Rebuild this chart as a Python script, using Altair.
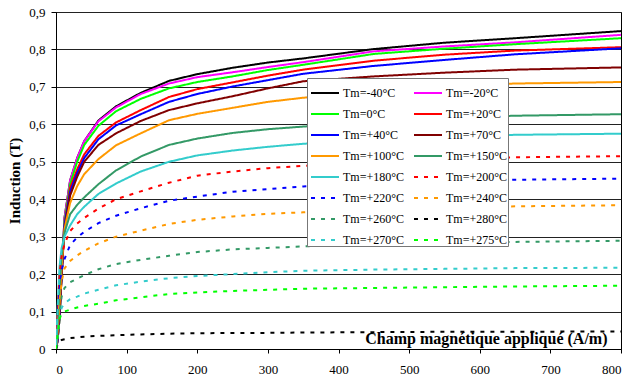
import altair as alt
import pandas as pd

# Applied field (A/m) at which each magnetisation curve is sampled
field_h = [0, 2, 5, 8, 12, 20, 30, 40, 60, 85, 120, 160, 200, 250, 300, 350, 450, 550, 650, 800]

# Induction (T) for each measuring temperature
b_m40 = [0, 0.02, 0.08, 0.20, 0.35, 0.45, 0.51, 0.555, 0.61, 0.648, 0.684, 0.716, 0.734, 0.751, 0.765, 0.776, 0.801, 0.818, 0.830, 0.849]
b_m20 = [0, 0.02, 0.08, 0.20, 0.35, 0.45, 0.51, 0.555, 0.608, 0.645, 0.681, 0.709, 0.726, 0.739, 0.753, 0.766, 0.795, 0.808, 0.819, 0.839]
b_0 = [0, 0.02, 0.08, 0.20, 0.34, 0.44, 0.50, 0.545, 0.596, 0.635, 0.668, 0.696, 0.713, 0.728, 0.745, 0.759, 0.788, 0.802, 0.814, 0.830]
b_p20 = [0, 0.02, 0.09, 0.20, 0.33, 0.43, 0.48, 0.52, 0.569, 0.605, 0.638, 0.673, 0.694, 0.712, 0.730, 0.746, 0.770, 0.786, 0.797, 0.806]
b_p40 = [0, 0.02, 0.09, 0.20, 0.33, 0.42, 0.47, 0.51, 0.560, 0.597, 0.627, 0.660, 0.681, 0.701, 0.718, 0.735, 0.756, 0.772, 0.787, 0.803]
b_p70 = [0, 0.03, 0.10, 0.20, 0.32, 0.41, 0.46, 0.50, 0.545, 0.576, 0.609, 0.638, 0.656, 0.675, 0.696, 0.715, 0.728, 0.738, 0.746, 0.752]
b_p100 = [0, 0.04, 0.12, 0.22, 0.32, 0.39, 0.435, 0.467, 0.507, 0.544, 0.576, 0.611, 0.628, 0.644, 0.660, 0.671, 0.690, 0.702, 0.709, 0.713]
b_p150 = [0, 0.06, 0.16, 0.25, 0.31, 0.36, 0.385, 0.405, 0.440, 0.477, 0.514, 0.545, 0.562, 0.577, 0.587, 0.594, 0.607, 0.617, 0.623, 0.627]
b_p180 = [0, 0.10, 0.22, 0.27, 0.30, 0.33, 0.36, 0.38, 0.414, 0.442, 0.474, 0.500, 0.517, 0.530, 0.540, 0.548, 0.559, 0.567, 0.572, 0.575]
b_p200 = [0, 0.08, 0.20, 0.25, 0.28, 0.315, 0.335, 0.350, 0.375, 0.400, 0.421, 0.444, 0.463, 0.474, 0.483, 0.489, 0.500, 0.508, 0.512, 0.515]
b_p220 = [0, 0.06, 0.16, 0.21, 0.24, 0.278, 0.298, 0.313, 0.336, 0.356, 0.376, 0.396, 0.407, 0.420, 0.427, 0.434, 0.442, 0.448, 0.452, 0.455]
b_p240 = [0, 0.05, 0.13, 0.18, 0.215, 0.235, 0.250, 0.262, 0.282, 0.300, 0.316, 0.334, 0.345, 0.354, 0.361, 0.365, 0.372, 0.377, 0.381, 0.384]
b_p260 = [0, 0.04, 0.10, 0.14, 0.163, 0.178, 0.188, 0.197, 0.213, 0.227, 0.238, 0.249, 0.259, 0.266, 0.270, 0.274, 0.279, 0.283, 0.286, 0.289]
b_p280 = [0, 0.01, 0.02, 0.024, 0.026, 0.029, 0.031, 0.033, 0.035, 0.037, 0.039, 0.041, 0.042, 0.043, 0.043, 0.044, 0.045, 0.046, 0.046, 0.047]
b_p270 = [0, 0.03, 0.08, 0.11, 0.122, 0.133, 0.140, 0.148, 0.158, 0.170, 0.180, 0.189, 0.195, 0.200, 0.205, 0.209, 0.212, 0.214, 0.216, 0.217]
b_p275 = [0, 0.03, 0.08, 0.095, 0.100, 0.105, 0.111, 0.115, 0.121, 0.130, 0.138, 0.147, 0.151, 0.155, 0.158, 0.161, 0.163, 0.165, 0.167, 0.169]

series_labels = [
    "Tm=-40°C", "Tm=-20°C", "Tm=0°C", "Tm=+20°C", "Tm=+40°C", "Tm=+70°C",
    "Tm=+100°C", "Tm=+150°C", "Tm=+180°C", "Tm=+200°C", "Tm=+220°C", "Tm=+240°C",
    "Tm=+260°C", "Tm=+280°C", "Tm=+270°C", "Tm=+275°C",
]
series_values = [
    b_m40, b_m20, b_0, b_p20, b_p40, b_p70, b_p100, b_p150, b_p180,
    b_p200, b_p220, b_p240, b_p260, b_p280, b_p270, b_p275,
]
series_colors = [
    "#000000", "#FF00FF", "#00FF00", "#FF0000", "#0000FF", "#800000",
    "#FF9900", "#339966", "#33CCCC", "#FF0000", "#0000FF", "#FF9900",
    "#339966", "#000000", "#33CCCC", "#00FF00",
]
series_dashes = [[1, 0]] * 9 + [[4, 6]] * 7

rows = []
for label, values in zip(series_labels, series_values):
    for h, b in zip(field_h, values):
        rows.append({"H": h, "B": b, "serie": label})
df = pd.DataFrame(rows)

serif = "Liberation Serif"

y_label_expr = "datum.value == 0 ? '0' : replace(format(datum.value, '.1f'), '.', ',')"


def series_legend():
    return alt.Legend(
        title=None,
        orient="none",
        direction="horizontal",
        legendX=251,
        legendY=66,
        columns=2,
        symbolType="stroke",
        symbolSize=784,
        symbolStrokeWidth=2,
        symbolOffset=3,
        labelFont=serif,
        labelFontSize=12,
        labelColor="#000",
        labelOffset=3,
        rowPadding=-11,
        columnPadding=5,
        padding=0,
        fillColor="white",
        strokeColor="#777",
    )


chart = (
    alt.Chart(df)
    .mark_line(strokeWidth=2, clip=True)
    .encode(
        x=alt.X(
            "H:Q",
            scale=alt.Scale(domain=[0, 800], nice=False),
            axis=alt.Axis(
                values=list(range(0, 801, 100)),
                grid=False,
                tickSize=4,
                labelPadding=10,
                labelFont=serif,
                labelFontSize=13,
                labelColor="#000",
                domainColor="#000",
                tickColor="#000",
                title="Champ magnétique appliqué (A/m)",
                titleFont=serif,
                titleFontSize=16,
                titleFontWeight="bold",
                titleColor="#000",
                titleAlign="right",
                titleBaseline="alphabetic",
                titleX=551,
                titleY=-5.5,
            ),
        ),
        y=alt.Y(
            "B:Q",
            scale=alt.Scale(domain=[0, 0.9], nice=False),
            axis=alt.Axis(
                values=[round(i * 0.1, 1) for i in range(10)],
                labelExpr=y_label_expr,
                grid=True,
                gridColor="#222",
                gridWidth=1,
                tickSize=5,
                labelPadding=6,
                labelFont=serif,
                labelFontSize=13,
                labelColor="#000",
                domainColor="#000",
                tickColor="#000",
                title="Induction (T)",
                titleFont=serif,
                titleFontSize=15,
                titleFontWeight="bold",
                titleColor="#000",
                titlePadding=6,
            ),
        ),
        color=alt.Color(
            "serie:N",
            sort=series_labels,
            scale=alt.Scale(domain=series_labels, range=series_colors),
            legend=series_legend(),
        ),
        strokeDash=alt.StrokeDash(
            "serie:N",
            sort=series_labels,
            scale=alt.Scale(domain=series_labels, range=series_dashes),
            legend=series_legend(),
        ),
        order=alt.Order("H:Q"),
    )
    .properties(
        width=565,
        height=337,
        autosize=alt.AutoSizeParams(type="none"),
        padding={"left": 56, "top": 12, "right": 7, "bottom": 29},
    )
    .configure(background="white", font=serif)
    .configure_view(stroke="#000", strokeWidth=1)
)

chart.save("out.html", embed_options={"renderer": "svg", "actions": False})
